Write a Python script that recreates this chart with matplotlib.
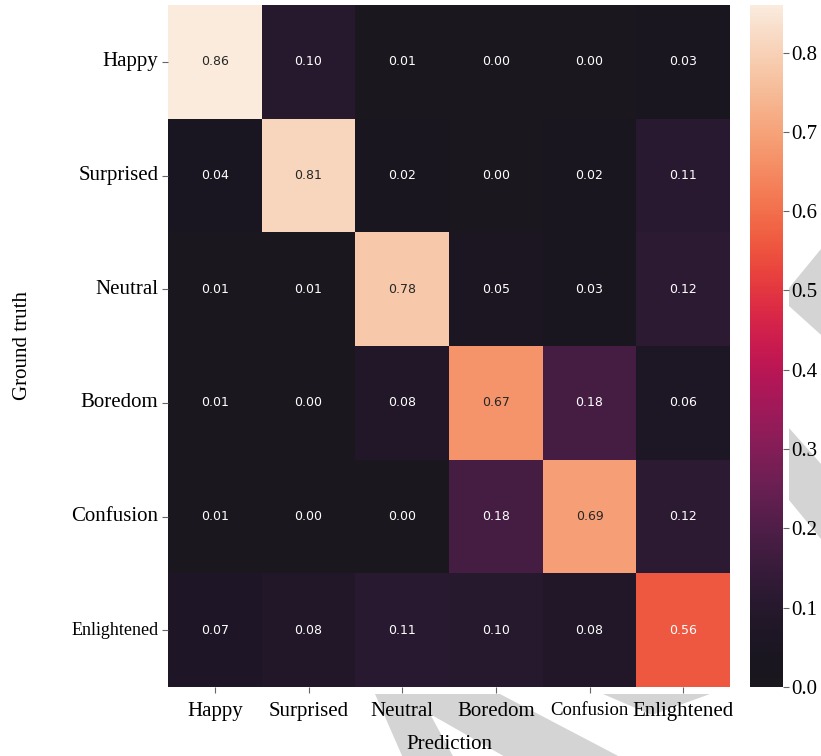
# =========================
# IMPORTS
# =========================
import matplotlib
matplotlib.use("Agg")

import numpy as np
import seaborn as sns
import matplotlib.pyplot as plt
from matplotlib.patches import Polygon
from matplotlib.colors import ListedColormap

# =========================
# DATA
# =========================
CLASSES = ["Happy", "Surprised", "Neutral", "Boredom", "Confusion", "Enlightened"]

ROW_HAPPY = [0.86, 0.10, 0.01, 0.00, 0.00, 0.03]
ROW_SURPRISED = [0.04, 0.81, 0.02, 0.00, 0.02, 0.11]
ROW_NEUTRAL = [0.01, 0.01, 0.78, 0.05, 0.03, 0.12]
ROW_BOREDOM = [0.01, 0.00, 0.08, 0.67, 0.18, 0.06]
ROW_CONFUSION = [0.01, 0.00, 0.00, 0.18, 0.69, 0.12]
ROW_ENLIGHTENED = [0.07, 0.08, 0.11, 0.10, 0.08, 0.56]

CBAR_TICKS = [0.0, 0.1, 0.2, 0.3, 0.4, 0.5, 0.6, 0.7, 0.8]

# =========================
# LAYOUT
# =========================
W, H = 821, 756
SERIF = "Liberation Serif"

# light grey background shapes (pixel coords, origin top-left)
BG_SHAPES = [
    [(830, 238), (789, 288), (789, 306), (830, 343)],
    [(789, 428), (830, 474), (830, 550), (789, 500)],
    [(375, 694), (500, 694), (622, 758), (507, 758), (430, 714), (454, 758), (403, 758)],
    [(603, 694), (710, 694), (652, 715)],
]


def px_poly(pts):
    return [(x / W, 1 - y / H) for x, y in pts]


def soft_rocket():
    # rocket with the darkest end lifted towards a neutral near-black
    c = np.array(sns.color_palette("rocket", 256))
    t = np.linspace(0, 1, 256)[:, None]
    k = 0.85 * (1 - t) ** 6
    dark = np.array([0.12, 0.105, 0.12])
    c = (1 - k) * c + k * dark
    return ListedColormap(np.clip(c, 0, 1))


# =========================
# PLOT
# =========================
def main():
    cm = np.array([ROW_HAPPY, ROW_SURPRISED, ROW_NEUTRAL,
                   ROW_BOREDOM, ROW_CONFUSION, ROW_ENLIGHTENED])

    fig = plt.figure(figsize=(W / 100, H / 100), dpi=100)

    for pts in BG_SHAPES:
        fig.patches.append(Polygon(px_poly(pts), closed=True, transform=fig.transFigure,
                                   facecolor="#d4d4d4", edgecolor="none", zorder=-1))

    ax = fig.add_axes([168 / W, 1 - 687 / H, 562 / W, 682 / H])
    cax = fig.add_axes([750 / W, 1 - 687 / H, 33 / W, 682 / H])

    sns.heatmap(cm, ax=ax, cbar_ax=cax, cmap=soft_rocket(), vmin=0.0, vmax=cm.max(),
                annot=True, fmt=".2f", annot_kws={"fontsize": 9, "family": "DejaVu Sans"},
                xticklabels=CLASSES, yticklabels=CLASSES)

    ax.set_xlabel("Prediction", fontsize=15, family=SERIF, labelpad=10)
    ax.set_ylabel("Ground truth", fontsize=15, family=SERIF)
    ax.yaxis.set_label_coords(-0.242, 0.5)

    ax.tick_params(axis="x", length=4, width=0.8, color="#666666", pad=7)
    ax.tick_params(axis="y", length=4, width=0.8, color="#666666", pad=3)
    for lbl in ax.get_xticklabels():
        lbl.set_fontfamily(SERIF)
        lbl.set_fontsize(15)
        lbl.set_rotation(0)
    ax.get_xticklabels()[4].set_fontsize(13.5)
    for lbl in ax.get_yticklabels():
        lbl.set_fontfamily(SERIF)
        lbl.set_fontsize(15)
        lbl.set_rotation(0)
    ax.get_yticklabels()[5].set_fontsize(13)

    cax.set_yticks(CBAR_TICKS)
    cax.set_yticklabels([f"{t:.1f}" for t in CBAR_TICKS], fontsize=15, family=SERIF)
    cax.tick_params(length=4, width=0.8, color="#666666", pad=2)

    fig.savefig("out.png", dpi=100)


if __name__ == "__main__":
    main()
